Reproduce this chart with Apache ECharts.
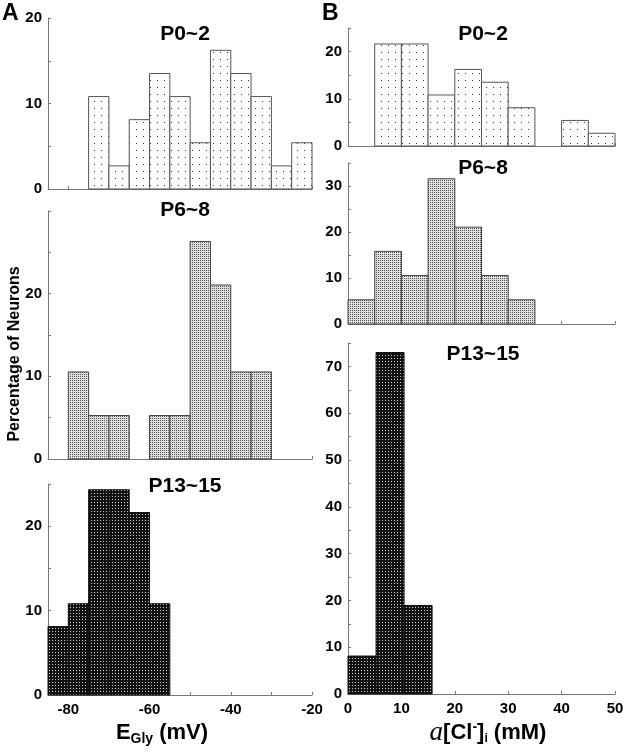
<!DOCTYPE html>
<html><head><meta charset="utf-8">
<script src="https://cdn.jsdelivr.net/npm/echarts@6/dist/echarts.min.js"></script>
<style>html,body{margin:0;padding:0;background:#fff}#c{width:630px;height:756px}</style>
</head><body><div id="c"></div>
<script>
// ---- data ----
const eglyEdges = [-85,-80,-75,-70,-65,-60,-55,-50,-45,-40,-35,-30,-25,-20];
const eglyP0_2  = [0,0,10.81,2.70,8.11,13.51,10.81,5.41,16.22,13.51,10.81,2.70,5.41];
const eglyP6_8  = [0,10.53,5.26,5.26,0,5.26,5.26,26.32,21.05,10.53,10.53,0,0];
const eglyP13_15= [8.11,10.81,24.32,24.32,21.62,10.81,0,0,0,0,0,0,0];
const clEdges = [0,5,10,15,20,25,30,35,40,45,50];
const clP0_2  = [0,21.62,21.62,10.81,16.22,13.51,8.11,0,5.41,2.70];
const clP6_8  = [5.26,15.79,10.53,31.58,21.05,10.53,5.26,0,0,0];
const clEdgesP13_15 = [0,5.25,10.5,15.75];
const clP13_15 = [8.11,72.97,18.92];
const eglyTickLabels = [-80,-60,-40,-20];
const clTickLabels = [0,10,20,30,40,50];
const yLabelsA = [[0,10,20],[0,10,20],[0,10,20]];
const yLabelsB = [[0,10,20],[0,10,20,30],[0,10,20,30,40,50,60,70]];
const yMaxA = [20,30,25];
const yMaxB = [25,35,75];
const panelTitles = ['P0~2','P6~8','P13~15'];

// ---- patterns ----
function makePattern(w,h,bg,dots,dotColor){
  const c=document.createElement('canvas'); c.width=w; c.height=h;
  const g=c.getContext('2d'); g.fillStyle=bg; g.fillRect(0,0,w,h);
  g.fillStyle=dotColor; dots.forEach(([x,y])=>g.fillRect(x,y,1,1));
  return {image:c, repeat:'repeat'};
}
const patLight = makePattern(7,7,'#ffffff',[[3,3]],'#333');
const patGray  = makePattern(2,2,'#dedede',[[0,0]],'#5a5a5a');
const patDark  = makePattern(3,3,'#111111',[[1,1]],'#d0d0d0');
const fills = [patLight, patGray, patDark];
const strokes = ['#555','#444','#111'];

const FONT = 'Liberation Sans, Arial, Helvetica, sans-serif';

// ---- layout ----
const gridsA = [{left:48,top:18,width:264,height:171},{left:48,top:211,width:264,height:248},{left:48,top:484,width:264,height:211}];
const gridsB = [{left:348,top:28,width:267,height:118},{left:348,top:163,width:267,height:161},{left:348,top:343,width:267,height:351}];

function binsData(edges, vals){
  const out=[]; vals.forEach((v,i)=>{ if(v>0) out.push([edges[i],edges[i+1],v]); }); return out;
}
function histSeries(idx, data, fill, stroke){
  return {type:'custom', xAxisIndex:idx, yAxisIndex:idx, data, encode:{x:[0,1], y:2}, clip:false,
    renderItem:(params,api)=>{
      const a=api.coord([api.value(0), api.value(2)]);
      const b=api.coord([api.value(1), 0]);
      return {type:'rect', shape:{x:a[0], y:a[1], width:b[0]-a[0], height:b[1]-a[1]},
        style:{fill:fill, stroke:stroke, lineWidth:1}};
    }};
}
const axisLineStyle = {color:'#777', width:1};
const labelStyle = {color:'#000', fontFamily:FONT, fontWeight:'bold', fontSize:15};

const grid=[], xAxis=[], yAxis=[], series=[];
const aData=[eglyP0_2,eglyP6_8,eglyP13_15];
const bData=[clP0_2,clP6_8];
for(let i=0;i<3;i++){
  grid.push(Object.assign({outerBoundsMode:'none', containLabel:false}, gridsA[i]));
  xAxis.push({type:'value', gridIndex:i, min:-85, max:-20, splitNumber:7,
    axisLine:{show:true, lineStyle:axisLineStyle}, axisTick:{show:true, inside:true, length:3, lineStyle:axisLineStyle},
    splitLine:{show:false},
    axisLabel:Object.assign({show:i===2, margin:7, showMinLabel:true, showMaxLabel:true,
      formatter:v=>eglyTickLabels.includes(v)?String(v):''}, labelStyle)});
  const yl=yLabelsA[i];
  yAxis.push({type:'value', gridIndex:i, min:0, max:yMaxA[i], interval:5,
    axisLine:{show:true, lineStyle:axisLineStyle}, axisTick:{show:true, inside:true, length:3, lineStyle:axisLineStyle},
    splitLine:{show:false},
    axisLabel:Object.assign({margin:6, showMaxLabel:true, formatter:v=>yl.includes(v)?String(v):''}, labelStyle)});
  series.push(histSeries(i, binsData(eglyEdges, aData[i]), fills[i], strokes[i]));
}
for(let i=0;i<3;i++){
  const k=i+3;
  grid.push(Object.assign({outerBoundsMode:'none', containLabel:false}, gridsB[i]));
  xAxis.push({type:'value', gridIndex:k, min:0, max:50, interval:10,
    axisLine:{show:true, lineStyle:axisLineStyle}, axisTick:{show:true, inside:true, length:3, lineStyle:axisLineStyle},
    splitLine:{show:false},
    axisLabel:Object.assign({show:i===2, margin:7, formatter:v=>clTickLabels.includes(v)?String(v):''}, labelStyle)});
  const yl=yLabelsB[i];
  yAxis.push({type:'value', gridIndex:k, min:0, max:yMaxB[i], interval:5,
    axisLine:{show:true, lineStyle:axisLineStyle}, axisTick:{show:true, inside:true, length:3, lineStyle:axisLineStyle},
    splitLine:{show:false},
    axisLabel:Object.assign({margin:6, showMaxLabel:true, formatter:v=>yl.includes(v)?String(v):''}, labelStyle)});
  const d = i<2 ? binsData(clEdges, bData[i]) : binsData(clEdgesP13_15, clP13_15);
  series.push(histSeries(k, d, fills[i], strokes[i]));
}

const titleStyle = {fontFamily:FONT, fontWeight:'bold', fontSize:21, fill:'#000', align:'center', verticalAlign:'middle'};
const titlePosA = [[185,34],[185,210],[185,486]];
const titlePosB = [[483,34],[483,168],[483,354]];
const graphic = [];
for(let i=0;i<3;i++){
  graphic.push({type:'text', x:titlePosA[i][0], y:titlePosA[i][1], style:Object.assign({text:panelTitles[i]}, titleStyle)});
  graphic.push({type:'text', x:titlePosB[i][0], y:titlePosB[i][1], style:Object.assign({text:panelTitles[i]}, titleStyle)});
}
graphic.push({type:'text', x:2, y:2, style:{text:'A', fontFamily:FONT, fontWeight:'bold', fontSize:23, fill:'#000'}});
graphic.push({type:'text', x:322, y:2, style:{text:'B', fontFamily:FONT, fontWeight:'bold', fontSize:23, fill:'#000'}});
graphic.push({type:'text', x:15, y:354, rotation:Math.PI/2,
  style:{text:'Percentage of Neurons', fontFamily:FONT, fontWeight:'bold', fontSize:16, fill:'#000', align:'center', verticalAlign:'middle'}});
graphic.push({type:'text', x:162, y:733, style:{
  text:'{b|E}{s|Gly}{b| (mV)}', align:'center', verticalAlign:'middle', fill:'#000',
  rich:{b:{fontFamily:FONT, fontWeight:'bold', fontSize:22, fill:'#000'},
        s:{fontFamily:FONT, fontWeight:'bold', fontSize:14, fill:'#000', padding:[12,0,0,0]}}}});
graphic.push({type:'text', x:488, y:733, style:{
  text:'{a|a}{b|[Cl}{p|-}{b|]}{s|i}{b| (mM)}', align:'center', verticalAlign:'middle', fill:'#000',
  rich:{a:{fontFamily:'Liberation Serif, serif', fontStyle:'italic', fontSize:27, fill:'#000'},
        b:{fontFamily:FONT, fontWeight:'bold', fontSize:22, fill:'#000'},
        p:{fontFamily:FONT, fontWeight:'bold', fontSize:14, fill:'#000', padding:[0,0,12,0]},
        s:{fontFamily:FONT, fontWeight:'bold', fontSize:12, fill:'#000', padding:[12,0,0,0]}}}});

const chart = echarts.init(document.getElementById('c'), null, {renderer:'canvas'});
chart.setOption({animation:false, backgroundColor:'#fff', grid, xAxis, yAxis, series, graphic});
</script></body></html>
